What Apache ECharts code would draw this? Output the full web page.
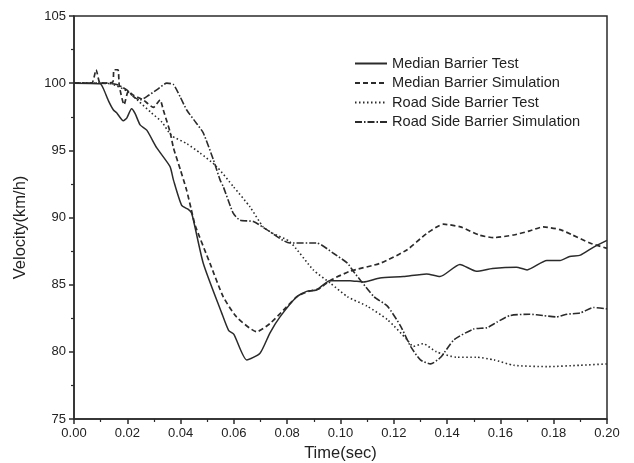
<!DOCTYPE html>
<html>
<head>
<meta charset="utf-8">
<style>
  html, body { margin: 0; padding: 0; background: #fff; }
  #chart { width: 634px; height: 463px; }
</style>
<script src="https://cdn.jsdelivr.net/npm/echarts@6/dist/echarts.min.js"></script>
</head>
<body>
<div id="chart"></div>
<script>
// Vehicle velocity during barrier impact: tests vs. simulations
const seriesNames = [
  'Median Barrier Test',
  'Median Barrier Simulation',
  'Road Side Barrier Test',
  'Road Side Barrier Simulation'
];

// Median barrier, test (time in s, velocity in km/h)
const medianTestT = [0, 0.0098, 0.011, 0.0129, 0.0148, 0.016, 0.0185, 0.0198, 0.0216, 0.0229, 0.0248, 0.0273, 0.031, 0.036, 0.0373, 0.0404, 0.0429, 0.0442, 0.0485, 0.0554, 0.058, 0.060, 0.0648, 0.0698, 0.0735, 0.0773, 0.0836, 0.0873, 0.091, 0.096, 0.1036, 0.1086, 0.1148, 0.1236, 0.1323, 0.1373, 0.1448, 0.151, 0.157, 0.166, 0.170, 0.1774, 0.1824, 0.186, 0.190, 0.195, 0.200];
const medianTestV = [100, 99.95, 99.6, 98.7, 98.0, 97.8, 97.2, 97.4, 98.1, 97.75, 96.9, 96.5, 95.2, 93.8, 92.8, 90.9, 90.6, 90.3, 86.6, 82.9, 81.6, 81.3, 79.4, 79.9, 81.4, 82.6, 84.1, 84.5, 84.6, 85.3, 85.3, 85.2, 85.5, 85.6, 85.8, 85.6, 86.5, 86.0, 86.2, 86.3, 86.1, 86.8, 86.8, 87.1, 87.2, 87.8, 88.3];

// Median barrier, simulation
const medianSimT = [0, 0.0066, 0.0083, 0.0098, 0.0125, 0.0146, 0.0150, 0.0165, 0.0170, 0.0188, 0.0204, 0.0223, 0.026, 0.0298, 0.0323, 0.0335, 0.036, 0.0373, 0.040, 0.0423, 0.044, 0.0455, 0.051, 0.056, 0.061, 0.0686, 0.0735, 0.0786, 0.0836, 0.088, 0.092, 0.096, 0.1036, 0.115, 0.125, 0.1323, 0.1386, 0.145, 0.152, 0.1574, 0.165, 0.171, 0.176, 0.1824, 0.187, 0.1936, 0.200];
const medianSimV = [100, 100, 101.0, 100, 100, 100.1, 101.0, 101.0, 99.8, 98.4, 99.4, 99.1, 98.75, 98.2, 98.75, 98.0, 96.4, 95.2, 93.5, 92.0, 90.6, 89.4, 86.6, 84.1, 82.6, 81.5, 82.1, 83.1, 84.1, 84.5, 84.7, 85.3, 86.0, 86.6, 87.6, 88.8, 89.5, 89.3, 88.7, 88.5, 88.7, 89.0, 89.3, 89.1, 88.7, 88.1, 87.7];

// Road side barrier, test
const roadTestT = [0, 0.010, 0.013, 0.016, 0.020, 0.024, 0.029, 0.033, 0.0366, 0.0423, 0.0473, 0.0535, 0.0598, 0.066, 0.071, 0.0748, 0.081, 0.0898, 0.0963, 0.1026, 0.110, 0.1176, 0.125, 0.1273, 0.131, 0.136, 0.1436, 0.151, 0.1576, 0.165, 0.1776, 0.190, 0.200];
const roadTestV = [100, 100, 100, 99.8, 99.4, 98.7, 97.8, 97.1, 96.1, 95.5, 94.8, 93.8, 92.3, 90.8, 89.3, 88.8, 88.2, 86.1, 85.1, 84.1, 83.4, 82.4, 80.9, 80.4, 80.6, 80.0, 79.6, 79.6, 79.4, 79.0, 78.9, 79.0, 79.1];

// Road side barrier, simulation
const roadSimT = [0, 0.0098, 0.016, 0.0198, 0.0223, 0.0248, 0.0273, 0.031, 0.0348, 0.0373, 0.0398, 0.0423, 0.046, 0.0485, 0.0523, 0.0548, 0.056, 0.0598, 0.0623, 0.0673, 0.0723, 0.081, 0.091, 0.0976, 0.1026, 0.1048, 0.1076, 0.1126, 0.1176, 0.1226, 0.1263, 0.130, 0.1338, 0.1376, 0.1426, 0.150, 0.155, 0.1586, 0.1636, 0.171, 0.176, 0.181, 0.185, 0.190, 0.195, 0.200];
const roadSimV = [100, 100, 99.9, 99.5, 99.0, 98.75, 99.0, 99.5, 100, 99.9, 99.0, 98.0, 97.0, 96.3, 94.3, 92.8, 92.3, 90.3, 89.8, 89.7, 89.1, 88.1, 88.1, 87.3, 86.6, 86.0, 85.3, 84.1, 83.4, 81.9, 80.4, 79.4, 79.1, 79.6, 80.9, 81.7, 81.8, 82.2, 82.7, 82.8, 82.7, 82.6, 82.8, 82.9, 83.3, 83.2];

// Axis ticks
const xTicks = [0, 0.02, 0.04, 0.06, 0.08, 0.10, 0.12, 0.14, 0.16, 0.18, 0.20];
const yTicks = [75, 80, 85, 90, 95, 100, 105];

const zip = (t, v) => t.map((x, i) => [x, v[i]]);
const ink = '#2b2b2b';
const font = 'Liberation Sans, Arial, sans-serif';

const dashes = ['solid', [5, 3], [1.5, 2.5], [7, 2, 1.5, 2]];
const widths = [1.5, 1.7, 1.6, 1.6];
const pairs = [[medianTestT, medianTestV], [medianSimT, medianSimV], [roadTestT, roadTestV], [roadSimT, roadSimV]];

const chart = echarts.init(document.getElementById('chart'));
chart.setOption({
  backgroundColor: '#fff',
  animation: false,
  textStyle: { fontFamily: font },
  grid: {
    left: 74, right: 27, top: 16, bottom: 44,
    outerBoundsMode: 'none',
    containLabel: false,
    show: true, borderColor: ink, borderWidth: 1.5, backgroundColor: 'transparent'
  },
  legend: {
    orient: 'vertical',
    left: 349, top: 51,
    itemWidth: 32, itemHeight: 12, itemGap: 4.5,
    itemStyle: { opacity: 0 },
    textStyle: { fontFamily: font, fontSize: 14.6, color: '#222' },
    data: seriesNames
  },
  xAxis: {
    type: 'value',
    min: xTicks[0], max: xTicks[xTicks.length - 1], interval: 0.02,
    name: 'Time(sec)', nameLocation: 'middle', nameGap: 21,
    nameTextStyle: { fontFamily: font, fontSize: 16.5, color: '#222' },
    axisLine: { lineStyle: { color: ink, width: 1.5 } },
    axisTick: { inside: false, length: 5, lineStyle: { color: ink, width: 1.5 } },
    minorTick: { show: true, splitNumber: 2, length: 3, lineStyle: { color: ink, width: 1.2 } },
    splitLine: { show: false },
    axisLabel: { fontFamily: font, fontSize: 13, color: '#222', margin: 8, formatter: v => v.toFixed(2) }
  },
  yAxis: {
    type: 'value',
    min: yTicks[0], max: yTicks[yTicks.length - 1], interval: 5,
    name: 'Velocity(km/h)', nameLocation: 'middle', nameGap: 45,
    nameTextStyle: { fontFamily: font, fontSize: 16.5, color: '#222', padding: [0, 20, 0, 0] },
    axisLine: { lineStyle: { color: ink, width: 1.5 } },
    axisTick: { inside: false, length: 5, lineStyle: { color: ink, width: 1.5 } },
    minorTick: { show: true, splitNumber: 2, length: 3, lineStyle: { color: ink, width: 1.2 } },
    splitLine: { show: false },
    axisLabel: { fontFamily: font, fontSize: 13, color: '#222', margin: 8 }
  },
  series: seriesNames.map((name, i) => ({
    name,
    type: 'line',
    data: zip(pairs[i][0], pairs[i][1]),
    showSymbol: false,
    symbol: 'none',
    smooth: 0.2,
    color: ink,
    lineStyle: { color: ink, width: widths[i], type: dashes[i] }
  }))
});
</script>
</body>
</html>
